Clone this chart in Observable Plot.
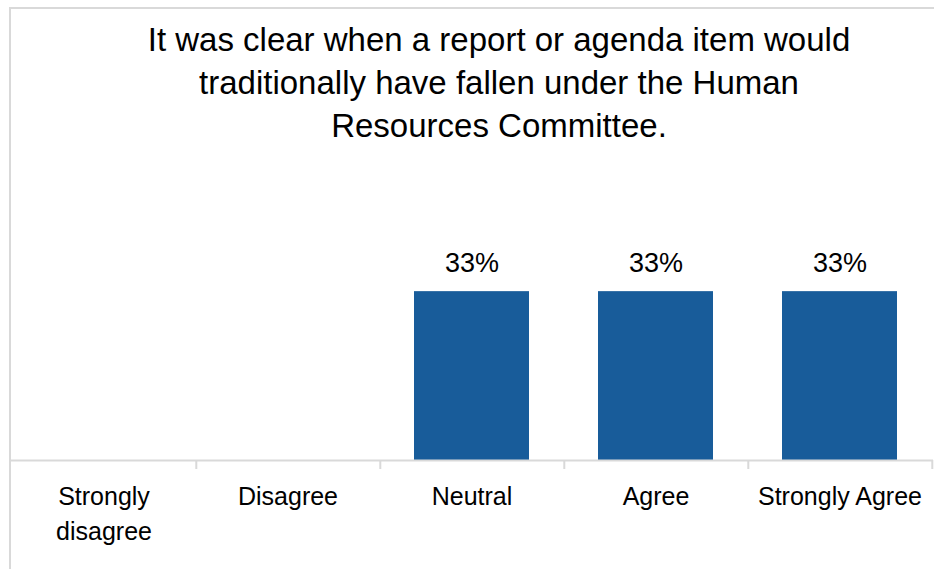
<!DOCTYPE html>
<html>
<head>
<meta charset="utf-8">
<script src="https://cdn.jsdelivr.net/npm/d3@7"></script>
<script src="https://cdn.jsdelivr.net/npm/@observablehq/plot@0.6"></script>
<style>
  html, body { margin: 0; padding: 0; background: #fff; }
  body { width: 934px; height: 569px; overflow: hidden; position: relative; font-family: "Liberation Sans", Arial, sans-serif; }
  #frame { position: absolute; left: 9px; top: 7px; width: 1000px; height: 600px;
           border-top: 2px solid #d9d9d9; border-left: 2px solid #d9d9d9; pointer-events: none; }
  #title { box-sizing: border-box; width: 934px; height: 150px; padding: 18px 0 0 64px;
           text-align: center; font-size: 33px; line-height: 43px; color: #000; }
  #chart svg { display: block; }
</style>
</head>
<body>
<div id="frame"></div>
<div id="title">It was clear when a report or agenda item would<br>traditionally have fallen under the Human<br>Resources Committee.</div>
<div id="chart"></div>
<script>
// Survey responses: share of respondents (%) per answer
const categories = ["Strongly disagree", "Disagree", "Neutral", "Agree", "Strongly Agree"];
const shares = [0, 0, 33, 33, 33];
const tickLabels = ["Strongly\ndisagree", "Disagree", "Neutral", "Agree", "Strongly Agree"];

const rows = categories.map((c, i) => ({category: c, share: shares[i]}));

// Layout
const W = 934, H = 419;
const marginLeft = 10, marginRight = 1, marginBottom = 100;
const baseline = 310;              // pixel row of the zero line
const step = (W - marginLeft - marginRight) / categories.length;
const blue = "#185C9A";
const grid = "#d9d9d9";

const chart = Plot.plot({
  width: W,
  height: H,
  marginTop: 0,
  marginLeft,
  marginRight,
  marginBottom,
  style: {fontFamily: "'Liberation Sans', Arial, sans-serif", color: "#000", background: "transparent"},
  x: {domain: categories, paddingInner: 0.375, paddingOuter: 0.19, label: null},
  y: {domain: [0, 60], range: [baseline, baseline - 307], axis: null},
  marks: [
    Plot.barY(rows, {x: "category", y: "share", fill: blue}),
    // baseline and separator ticks between categories
    Plot.ruleY([0], {stroke: grid, strokeWidth: 2}),
    Plot.ruleX(categories, {x: d => d, dx: step / 2, stroke: grid, strokeWidth: 2, insetTop: baseline}),
    Plot.text(rows.filter(d => d.share > 0), {
      x: "category", y: "share", text: d => `${d.share}%`,
      lineAnchor: "bottom", dy: -20, fontSize: 27, fill: "#000"
    }),
    Plot.axisX({
      tickSize: 0, tickPadding: 11, fontSize: 25, lineHeight: 1.4,
      tickFormat: d => tickLabels[categories.indexOf(d)], label: null
    })
  ]
});

document.getElementById("chart").appendChild(chart);
</script>
</body>
</html>
